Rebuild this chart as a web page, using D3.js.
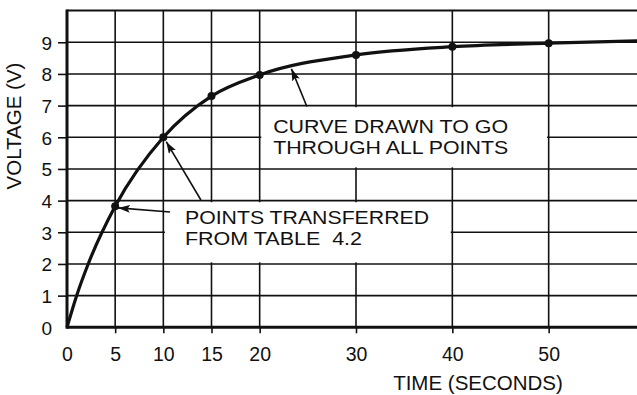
<!DOCTYPE html>
<html>
<head>
<meta charset="utf-8">
<script src="https://cdn.jsdelivr.net/npm/d3@7"></script>
<style>
  html, body { margin: 0; padding: 0; background: #fff; }
  svg { display: block; font-family: "Liberation Sans", Arial, Helvetica, sans-serif; }
</style>
</head>
<body>
<svg id="chart" width="637" height="395"></svg>
<script>
// ---- data ----
const xTicks = [0, 5, 10, 15, 20, 30, 40, 50];
const yTicks = [0, 1, 2, 3, 4, 5, 6, 7, 8, 9];
const yGrid = [1, 2, 3, 4, 5, 6, 7, 8, 9, 10];
const dotTime = [5, 10, 15, 20, 30, 40, 50];
const dotVolt = [3.82, 6.0, 7.3, 7.97, 8.6, 8.86, 8.97];
const curveTime = [0, 1, 2.2, 5, 10, 15, 20, 30, 40, 50, 60];
const curveVolt = [0, 1.0, 2.0, 3.82, 6.0, 7.3, 7.97, 8.6, 8.86, 8.97, 9.05];
const xTitle = "TIME (SECONDS)";
const yTitle = "VOLTAGE (V)";
const noteCurve = ["CURVE DRAWN TO GO", "THROUGH ALL POINTS"];
const notePoints = ["POINTS TRANSFERRED", "FROM TABLE  4.2"];

const svg = d3.select("#chart");
const x = d3.scaleLinear().domain([0, 60]).range([67, 645]);
const y = d3.scaleLinear().domain([0, 10]).range([327.3, 10.6]);
const ink = "#111";

// grid
const grid = svg.append("g").attr("stroke", ink).attr("stroke-width", 1.6);
grid.selectAll("line.h").data(yGrid).join("line")
  .attr("x1", x(0)).attr("x2", x(60))
  .attr("y1", d => y(d)).attr("y2", d => y(d))
  .attr("stroke-width", d => d === 10 ? 2 : 1.6);
grid.selectAll("line.v").data(xTicks.filter(d => d > 0)).join("line")
  .attr("x1", d => x(d)).attr("x2", d => x(d))
  .attr("y1", y(0)).attr("y2", y(10));

// white boxes behind annotations (inside grid cells)
const boxes = [
  { t0: 20, t1: 50, v0: 5, v1: 7 },
  { t0: 10, t1: 40, v0: 2, v1: 4 }
];
svg.append("g").selectAll("rect").data(boxes).join("rect")
  .attr("x", d => x(d.t0) + 1.6).attr("width", d => x(d.t1) - x(d.t0) - 3.2)
  .attr("y", d => y(d.v1) + 1.6).attr("height", d => y(d.v0) - y(d.v1) - 3.2)
  .attr("fill", "#fff");

// axes
const yAxis = d3.axisLeft(y).tickValues(yTicks).tickSize(9).tickPadding(6);
const gy = svg.append("g").attr("transform", `translate(${x(0)},0)`).call(yAxis);
gy.select(".domain").remove();
gy.selectAll(".tick").filter(d => d === 0).select("line").remove();
gy.selectAll(".tick line").attr("stroke", ink).attr("stroke-width", 1.6);
gy.selectAll(".tick text").attr("font-size", 19).attr("fill", ink)
  .attr("font-family", "Liberation Sans, Arial, sans-serif").attr("dy", "0.36em");

const xAxis = d3.axisBottom(x).tickValues(xTicks).tickSize(6).tickPadding(14);
const gx = svg.append("g").attr("transform", `translate(0,${y(0)})`).call(xAxis);
gx.select(".domain").remove();
gx.selectAll(".tick").filter(d => d === 0).select("line").remove();
gx.selectAll(".tick line").attr("stroke", ink).attr("stroke-width", 1.6);
gx.selectAll(".tick text").attr("font-size", 19.5).attr("fill", ink)
  .attr("font-family", "Liberation Sans, Arial, sans-serif");

// main axis lines
svg.append("line").attr("x1", x(0)).attr("x2", x(60)).attr("y1", y(0)).attr("y2", y(0))
  .attr("stroke", ink).attr("stroke-width", 3);
svg.append("line").attr("x1", x(0)).attr("x2", x(0)).attr("y1", y(0) + 1.5).attr("y2", y(10) - 1)
  .attr("stroke", ink).attr("stroke-width", 3);

// titles
svg.append("text").attr("x", 478).attr("y", 390).attr("text-anchor", "middle")
  .attr("font-size", 20.5).attr("fill", ink).text(xTitle);
svg.append("text").attr("transform", "translate(21,126) rotate(-90)").attr("text-anchor", "middle")
  .attr("font-size", 20.5).attr("fill", ink).text(yTitle);

// curve
const curveData = curveTime.map((t, i) => [t, curveVolt[i]]);
svg.append("path").datum(curveData)
  .attr("d", d3.line().x(d => x(d[0])).y(d => y(d[1])).curve(d3.curveMonotoneX))
  .attr("fill", "none").attr("stroke", ink).attr("stroke-width", 3.2);

// points
svg.append("g").selectAll("circle").data(dotTime.map((t, i) => [t, dotVolt[i]])).join("circle")
  .attr("cx", d => x(d[0])).attr("cy", d => y(d[1])).attr("r", 4).attr("fill", ink);

// arrow marker
svg.append("defs").append("marker").attr("id", "ah")
  .attr("markerUnits", "userSpaceOnUse").attr("markerWidth", 14).attr("markerHeight", 10)
  .attr("refX", 12).attr("refY", 4).attr("orient", "auto")
  .append("path").attr("d", "M0,0 L12,4 L0,8 L2.5,4 Z").attr("fill", ink);

const arrows = [
  { t0: 10.7, v0: 3.64, t1: 5.3, v1: 3.77 },
  { t0: 13.9, v0: 4.02, t1: 10.3, v1: 5.86 },
  { t0: 24.9, v0: 6.97, t1: 23.3, v1: 8.16 }
];
svg.append("g").selectAll("line").data(arrows).join("line")
  .attr("x1", d => x(d.t0)).attr("y1", d => y(d.v0))
  .attr("x2", d => x(d.t1)).attr("y2", d => y(d.v1))
  .attr("stroke", ink).attr("stroke-width", 1.6).attr("marker-end", "url(#ah)");

// annotation text
function note(lines, widths, t, v, dv) {
  svg.append("g").selectAll("text").data(lines).join("text")
    .attr("x", x(t)).attr("y", (d, i) => y(v - i * dv))
    .attr("font-size", 18.5).attr("fill", ink)
    .attr("textLength", (d, i) => widths[i]).attr("lengthAdjust", "spacingAndGlyphs")
    .style("white-space", "pre")
    .text(d => d);
}
note(noteCurve, [235, 235], 21.4, 6.14, 0.665);
note(notePoints, [244, 177], 12.25, 3.25, 0.665);
</script>
</body>
</html>
